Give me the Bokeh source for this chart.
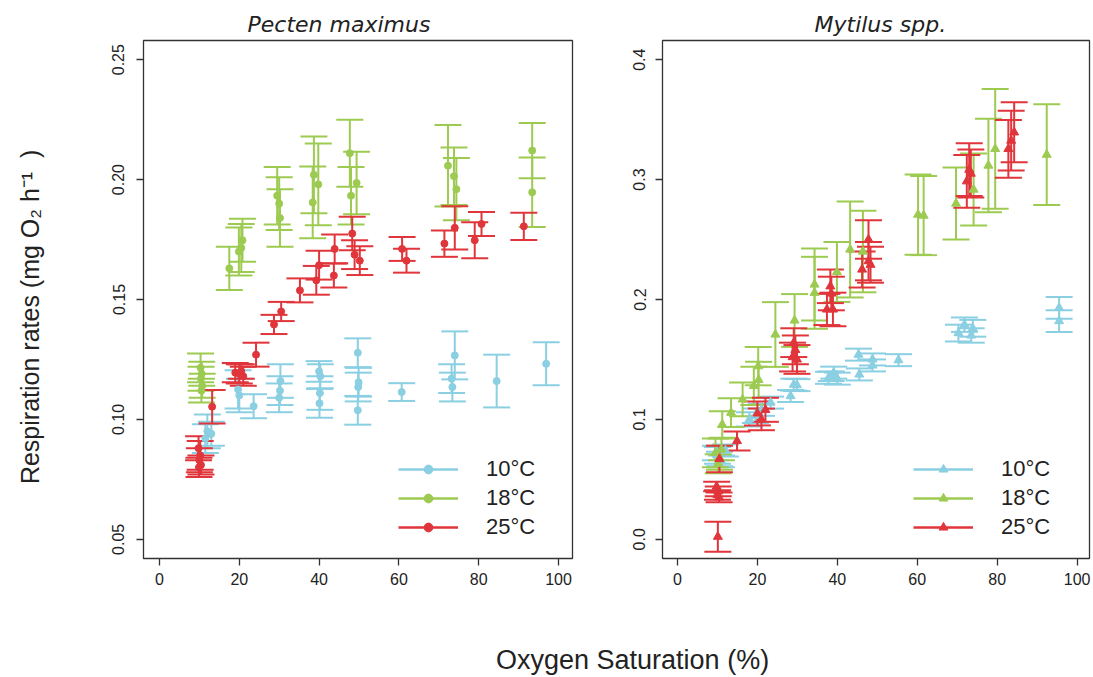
from bokeh.plotting import figure
from bokeh.models import (ColumnDataSource, Whisker, TeeHead, Legend, LegendItem,
                          FixedTicker, Div)
from bokeh.layouts import row, column
from bokeh.embed import file_html
from bokeh.resources import INLINE

# ---------------- data: Pecten maximus ----------------
pec10_x = [11.5, 12.0, 13.0, 19.7, 20.0, 23.6, 30.3, 30.2, 30.0, 40.0, 40.3, 40.2, 40.1,
           49.7, 49.9, 49.8, 49.7, 60.7, 74.0, 73.2, 73.4, 84.5, 96.9]
pec10_y = [0.092, 0.095, 0.094, 0.1125, 0.110, 0.1055, 0.116, 0.112, 0.109, 0.120, 0.118, 0.111, 0.1067,
           0.1278, 0.1155, 0.1135, 0.1038, 0.1114, 0.1267, 0.117, 0.1135, 0.116, 0.1232]
pec10_se = [0.006, 0.007, 0.005, 0.008, 0.007, 0.005, 0.007, 0.006, 0.006, 0.0043, 0.005, 0.007, 0.006,
            0.006, 0.006, 0.006, 0.006, 0.0037, 0.010, 0.006, 0.006, 0.011, 0.009]

pec18_x = [10.3, 10.6, 10.4, 10.7, 10.5, 17.5, 19.9, 20.5, 20.8, 29.5, 30.0, 30.2,
           38.7, 39.8, 38.4, 47.7, 49.4, 48.0, 72.3, 73.8, 74.4, 93.4, 93.4]
pec18_y = [0.1215, 0.119, 0.117, 0.114, 0.112, 0.163, 0.170, 0.1715, 0.1747, 0.1933, 0.190, 0.184,
           0.202, 0.198, 0.1905, 0.211, 0.1986, 0.1933, 0.2058, 0.2014, 0.196, 0.2121, 0.1947]
pec18_se = [0.006, 0.005, 0.005, 0.005, 0.005, 0.009, 0.010, 0.010, 0.009, 0.012, 0.011, 0.012,
            0.016, 0.017, 0.015, 0.014, 0.013, 0.012, 0.017, 0.012, 0.013, 0.0115, 0.0145]

pec25_x = [9.8, 10.2, 10.0, 10.4, 9.9, 13.2, 19.0, 20.0, 21.0, 20.5, 24.2, 28.7, 30.5,
           35.2, 39.3, 40.0, 43.7, 43.9, 48.3, 48.9, 50.2, 60.8, 61.9, 71.4, 74.0, 79.0, 80.7, 91.3]
pec25_y = [0.088, 0.085, 0.083, 0.081, 0.080, 0.1053, 0.1195, 0.119, 0.118, 0.120, 0.127, 0.1396, 0.145,
           0.1538, 0.158, 0.1643, 0.160, 0.1711, 0.1775, 0.1687, 0.1662, 0.1711, 0.1662, 0.1733, 0.1799,
           0.1747, 0.1815, 0.1805]
pec25_se = [0.005, 0.006, 0.005, 0.004, 0.004, 0.007, 0.004, 0.004, 0.004, 0.003, 0.005, 0.004, 0.004,
            0.005, 0.006, 0.006, 0.005, 0.006, 0.007, 0.006, 0.006, 0.005, 0.005, 0.0055, 0.009,
            0.0075, 0.005, 0.0057]

# ---------------- data: Mytilus spp. ----------------
myt10_x = [9.5, 10.0, 10.5, 11.0, 12.0, 18.0, 19.5, 21.0, 23.3, 28.3, 29.1, 29.9,
           37.8, 39.1, 40.0, 38.5, 45.3, 45.5, 48.8, 48.8, 55.3, 70.3, 71.8, 73.9, 73.5, 95.5, 95.5]
myt10_y = [0.072, 0.070, 0.067, 0.065, 0.074, 0.100, 0.103, 0.108, 0.114, 0.1195, 0.129, 0.1286,
           0.1347, 0.139, 0.134, 0.136, 0.154, 0.1375, 0.150, 0.145, 0.1494, 0.172, 0.179, 0.176, 0.170,
           0.193, 0.182]
myt10_se = [0.006, 0.007, 0.006, 0.005, 0.005, 0.006, 0.006, 0.005, 0.005, 0.005, 0.005, 0.005,
            0.005, 0.005, 0.005, 0.004, 0.005, 0.005, 0.005, 0.005, 0.005, 0.007, 0.006, 0.007, 0.006,
            0.009, 0.009]

myt18_x = [9.5, 10.5, 11.0, 10.2, 11.2, 13.4, 16.3, 19.1, 20.3, 20.2, 24.5, 29.3, 34.3, 34.3,
           39.9, 43.2, 46.4, 60.2, 61.6, 69.7, 74.1, 77.8, 79.5, 92.4]
myt18_y = [0.072, 0.068, 0.075, 0.063, 0.0958, 0.1056, 0.1167, 0.128, 0.133, 0.1444, 0.1708, 0.1825,
           0.2056, 0.2125, 0.223, 0.2417, 0.240, 0.2708, 0.270, 0.280, 0.2917, 0.3117, 0.3256, 0.3208]
myt18_se = [0.012, 0.010, 0.009, 0.008, 0.011, 0.012, 0.014, 0.016, 0.015, 0.016, 0.027, 0.022,
            0.030, 0.030, 0.025, 0.040, 0.034, 0.0335, 0.033, 0.030, 0.030, 0.039, 0.050, 0.042]

myt25_x = [10.1, 9.8, 10.2, 10.0, 10.4, 10.5, 14.9, 20.0, 21.0, 22.0, 29.1, 29.5, 28.8, 29.9,
           38.25, 38.5, 37.4, 38.9, 46.2, 47.8, 47.8, 48.3, 72.4, 73.0, 73.4, 82.8, 83.5, 84.25]
myt25_y = [0.0022, 0.044, 0.040, 0.037, 0.035, 0.067, 0.082, 0.105, 0.100, 0.108, 0.164, 0.158, 0.152,
           0.150, 0.211, 0.205, 0.1917, 0.1917, 0.225, 0.250, 0.232, 0.229, 0.2986, 0.3083, 0.305,
           0.3256, 0.3325, 0.3394]
myt25_se = [0.0125, 0.004, 0.004, 0.004, 0.004, 0.011, 0.008, 0.010, 0.009, 0.010, 0.012, 0.012, 0.012,
            0.012, 0.014, 0.014, 0.013, 0.014, 0.015, 0.016, 0.016, 0.015, 0.022, 0.022, 0.020,
            0.024, 0.025, 0.025]

temps = ["10°C", "18°C", "25°C"]
colors = ["#8ACFE2", "#9DCB52", "#E0353B"]
x_ticks = [0, 20, 40, 60, 80, 100]
pec_yticks = [0.05, 0.10, 0.15, 0.20, 0.25]
pec_ylabels = ["0.05", "0.10", "0.15", "0.20", "0.25"]
myt_yticks = [0.0, 0.1, 0.2, 0.3, 0.4]
myt_ylabels = ["0.0", "0.1", "0.2", "0.3", "0.4"]

FONT = "Liberation Sans"
NAN = float("nan")
NB = "\u00a0"


def style(p, yticks, ylabels, title_offset, ystandoff):
    p.xgrid.visible = False
    p.ygrid.visible = False
    p.outline_line_color = "#333333"
    p.outline_line_width = 1.3
    for ax in (p.xaxis[0], p.yaxis[0]):
        ax.axis_line_color = None
        ax.major_tick_line_color = "#333333"
        ax.major_tick_line_width = 1.3
        ax.major_tick_out = 7
        ax.major_tick_in = 0
        ax.minor_tick_line_color = None
        ax.major_label_text_font = FONT
        ax.major_label_text_font_size = "16px"
        ax.major_label_text_color = "#222222"
    p.xaxis[0].ticker = FixedTicker(ticks=x_ticks)
    p.xaxis[0].major_label_overrides = {v: str(v) for v in x_ticks}
    p.xaxis[0].major_label_standoff = 7
    p.yaxis[0].ticker = FixedTicker(ticks=yticks)
    p.yaxis[0].major_label_overrides = {v: s for v, s in zip(yticks, ylabels)}
    p.yaxis[0].major_label_orientation = "vertical"
    p.yaxis[0].major_label_standoff = ystandoff
    p.title.align = "left"
    p.title.offset = title_offset
    p.title.text_font = "DejaVu Sans"
    p.title.text_font_style = "italic"
    p.title.text_font_size = "22px"
    p.title.text_color = "#222222"
    p.title.standoff = 8


def add_series(p, xs, ys, ses, color, marker, size):
    lo = [y - s for y, s in zip(ys, ses)]
    hi = [y + s for y, s in zip(ys, ses)]
    src = ColumnDataSource(dict(x=xs, y=ys, lo=lo, hi=hi))
    w = Whisker(source=src, base="x", lower="lo", upper="hi", dimension="height",
                line_color=color, line_width=2,
                upper_head=TeeHead(size=27, line_color=color, line_width=2),
                lower_head=TeeHead(size=27, line_color=color, line_width=2))
    p.add_layout(w)
    r = p.scatter("x", "y", source=src, marker=marker, size=size,
                  fill_color=color, line_color=color)
    ln = p.line(x=[NAN, NAN], y=[NAN, NAN], line_color=color, line_width=2.5)
    return [ln, r]


def make_legend(p, rends, loc):
    items = [LegendItem(label=t, renderers=r) for t, r in zip(temps, rends)]
    lg = Legend(items=items, location=loc, border_line_color=None,
                background_fill_alpha=0, glyph_width=60, glyph_height=22,
                label_standoff=28, spacing=3, padding=0, margin=0,
                label_text_font=FONT, label_text_font_size="22px",
                label_text_color="#222222")
    p.add_layout(lg)


# ---------------- left panel ----------------
p1 = figure(frame_width=429, frame_height=518, min_border_left=143, min_border_right=28,
            min_border_top=40, min_border_bottom=52,
            x_range=(-4, 103.5), y_range=(0.042, 0.258),
            title="Pecten maximus", output_backend="svg", toolbar_location=None)
style(p1, pec_yticks, pec_ylabels, 104, 12)
p1.yaxis[0].axis_label = "Respiration rates (mg O\u2082 h\u207b\u00b9" + NB * 2 + ")" + NB * 5
p1.yaxis[0].axis_label_text_font = FONT
p1.yaxis[0].axis_label_text_font_size = "25px"
p1.yaxis[0].axis_label_text_font_style = "normal"
p1.yaxis[0].axis_label_text_color = "#222222"
p1.yaxis[0].axis_label_standoff = 66

r1 = [add_series(p1, pec10_x, pec10_y, pec10_se, colors[0], "circle", 7),
      add_series(p1, pec18_x, pec18_y, pec18_se, colors[1], "circle", 7),
      add_series(p1, pec25_x, pec25_y, pec25_se, colors[2], "circle", 7)]
make_legend(p1, r1, (255, 18))

# ---------------- right panel ----------------
p2 = figure(frame_width=427, frame_height=518, min_border_left=62, min_border_right=4,
            min_border_top=40, min_border_bottom=52,
            x_range=(-3.75, 103.1), y_range=(-0.016, 0.416),
            title="Mytilus spp.", output_backend="svg", toolbar_location=None)
style(p2, myt_yticks, myt_ylabels, 152, 10)

r2 = [add_series(p2, myt10_x, myt10_y, myt10_se, colors[0], "triangle", 9),
      add_series(p2, myt18_x, myt18_y, myt18_se, colors[1], "triangle", 9),
      add_series(p2, myt25_x, myt25_y, myt25_se, colors[2], "triangle", 9)]
make_legend(p2, r2, (251, 18))

xlab = Div(text='<div style="margin-left:491px; padding-top:26px; font-family:\'Liberation Sans\', Arial, sans-serif; '
                'font-size:27px; color:#222222; white-space:nowrap;">Oxygen Saturation (%)</div>',
           width=1093, height=67)

layout = column(row(p1, p2), xlab)
open("out.html", "w").write(file_html(layout, INLINE))
